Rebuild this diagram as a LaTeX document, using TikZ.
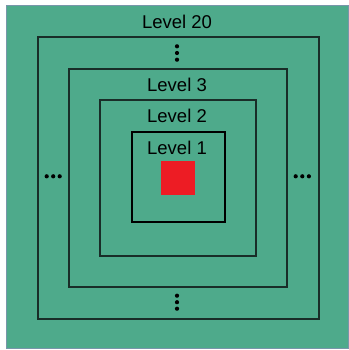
\documentclass[tikz,border=0pt]{standalone}
\usepackage{fontspec}
\setmainfont{Liberation Sans}
\usetikzlibrary{positioning}

\definecolor{bggreen}{RGB}{78,170,139}
\definecolor{edgegray}{RGB}{120,150,170}
\definecolor{lvlred}{RGB}{237,28,36}
\definecolor{lvlline}{RGB}{25,45,40}

\begin{document}
\begin{tikzpicture}[
    x=1pt, y=-1pt,
    lvl/.style={draw=lvlline, line width=2pt, inner sep=0pt},
    lbl/.style={anchor=base, inner sep=0pt, font=\fontsize{18.5}{22}\selectfont},
    dot/.style={circle, fill=black, inner sep=0pt, minimum size=4.2pt}
]
\useasboundingbox (0,0) rectangle (348,350);
\fill[white] (0,0) rectangle (348,350);
\draw[fill=bggreen, draw=edgegray, line width=1pt] (6,6) rectangle (348.5,348.5);

\coordinate (c) at (178.5,178);

\node[lvl, minimum width=281pt, minimum height=281pt] (lvl20) at (c) {};
\node[lvl, minimum width=218pt, minimum height=218pt] (lvl3) at (178,178) {};
\node[lvl, minimum width=156pt, minimum height=156pt] (lvl2) at (178.3,178) {};
\node[lvl, draw=black, line width=2.6pt, minimum width=93pt, minimum height=90pt] (lvl1) at (178.5,177) {};
\node[fill=lvlred, minimum size=34pt, inner sep=0pt] (core) at (178,178) {};

\node[lbl] (t20) at (177,28.7) {Level 20};
\node[lbl] (t3) at (177,91.7) {Level 3};
\node[lbl] (t2) at (177,122.7) {Level 2};
\node[lbl] (t1) at (177,154) {Level 1};

% the skipped levels
\foreach \k in {0,1,2} {
    \node[dot] at (177,46.3+6.7*\k) {};
    \node[dot] at (177,295.7+6.5*\k) {};
    \node[dot] at (46.7+6.5*\k,176.3) {};
    \node[dot] at (295.7+6.6*\k,176.3) {};
}
\end{tikzpicture}
\end{document}
